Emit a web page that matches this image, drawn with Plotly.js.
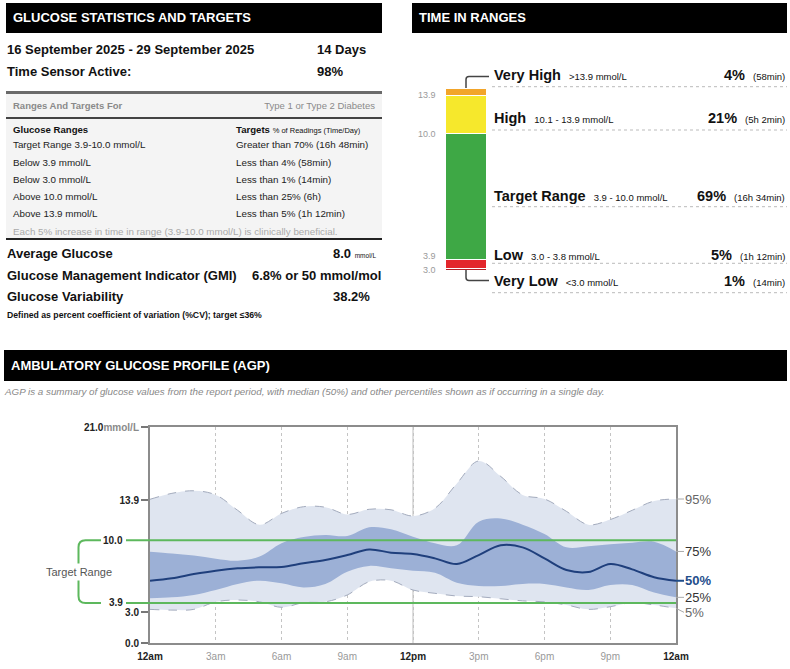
<!DOCTYPE html>
<html><head><meta charset="utf-8">
<script src="https://cdn.plot.ly/plotly-3.0.1.min.js"></script>
<style>
body{margin:0;background:#fff;}
#page{position:relative;width:790px;height:669px;overflow:hidden;font-family:"Liberation Sans",Arial,sans-serif;color:#111;}
#plot{position:absolute;left:0;top:0;width:790px;height:669px;}
.t{position:absolute;white-space:nowrap;transform:translateY(-50%);line-height:1.1;}
.box{position:absolute;}
</style></head><body><div id="page"><div id="plot"></div></div>
<script>
// ---------- DATA ----------
const reportPeriod = '16 September 2025 - 29 September 2025';
const reportDays = '14 Days';
const sensorActive = '98%';
const rangeRows = ['Target Range 3.9-10.0 mmol/L','Below 3.9 mmol/L','Below 3.0 mmol/L','Above 10.0 mmol/L','Above 13.9 mmol/L'];
const targetRows = ['Greater than 70% (16h 48min)','Less than 4% (58min)','Less than 1% (14min)','Less than 25% (6h)','Less than 5% (1h 12min)'];
const avgGlucose = '8.0';
const gmiValue = '6.8% or 50 mmol/mol';
const variability = '38.2%';

const tirLabels = ['Very Low','Low','Target Range','High','Very High'];
const tirRanges = ['&lt;3.0 mmol/L','3.0 - 3.8 mmol/L','3.9 - 10.0 mmol/L','10.1 - 13.9 mmol/L','&gt;13.9 mmol/L'];
const tirPercent = [1,5,69,21,4];
const tirTimes = ['(14min)','(1h 12min)','(16h 34min)','(5h 2min)','(58min)'];
const tirBounds = ['3.0','3.9','10.0','13.9'];

const hours = [0,1,2,3,4,5,6,7,8,9,10,11,12,13,14,15,16,17,18,19,20,21,22,23,24];
const p95 = [13.97,14.55,14.8,14.4,12.9,11.5,12.6,13.25,13.2,12.5,13.0,12.95,12.35,13.1,15.5,17.7,16.2,14.4,14.0,12.8,11.5,12.0,12.9,13.8,14.0];
const p75 = [8.88,8.7,8.5,8.2,8.0,8.4,9.7,10.3,10.5,10.4,11.25,11.05,10.33,9.7,9.5,11.8,12.1,11.5,10.6,9.3,9.4,9.6,9.75,9.85,8.9];
const p50 = [6.06,6.3,6.7,7.03,7.26,7.36,7.4,7.75,8.07,8.55,9.1,8.78,8.65,8.23,7.68,8.55,9.5,9.3,8.23,7.1,6.9,7.68,7.16,6.4,6.06];
const p25 = [4.34,4.44,4.67,5.15,5.74,6.06,5.8,5.4,5.74,6.93,7.49,7.26,7.03,6.83,5.86,5.54,5.54,5.74,5.74,5.4,5.15,5.64,5.64,4.9,4.44];
const p5  = [3.27,3.2,3.27,4.0,4.18,4.0,3.47,3.92,4.0,4.67,5.96,6.06,5.15,4.83,4.57,4.5,4.3,4.1,4.0,3.7,3.27,3.53,3.92,3.7,3.37];
const xTickVals = [0,3,6,9,12,15,18,21,24];
const xTickText = ['12am','3am','6am','9am','12pm','3pm','6pm','9pm','12am'];
const yTickVals = [0,3,13.9,21];
const yTickText = ['0.0','3.0','13.9','21.0'];
const targetLow = 3.9, targetHigh = 10.0;
const pctLabels = ['95%','75%','50%','25%','5%'];

// ---------- HTML TEXT PANELS ----------
const page = document.getElementById('page');
function box(l,t,w,h,css){const d=document.createElement('div');d.className='box';d.style.cssText=`left:${l}px;top:${t}px;width:${w}px;height:${h}px;`+(css||'');page.appendChild(d);return d;}
function txt(x,y,html,css,right){const d=document.createElement('div');d.className='t';d.innerHTML=html;d.style.cssText=(right?`right:${790-x}px;`:`left:${x}px;`)+`top:${y}px;`+(css||'');page.appendChild(d);return d;}

// headers
box(6,3,376,30,'background:#000;');
txt(13,18,'GLUCOSE STATISTICS AND TARGETS','color:#fff;font-weight:bold;font-size:13px;');
box(412,3,375,30,'background:#000;');
txt(419,18,'TIME IN RANGES','color:#fff;font-weight:bold;font-size:13px;');
box(4,350,783,31,'background:#000;');
txt(11,366,'AMBULATORY GLUCOSE PROFILE (AGP)','color:#fff;font-weight:bold;font-size:13px;');
txt(5,392,'AGP is a summary of glucose values from the report period, with median (50%) and other percentiles shown as if occurring in a single day.','color:#888;font-style:italic;font-size:9.8px;');

// stats panel
const B13='font-weight:bold;font-size:13px;color:#111;';
txt(7,50,reportPeriod,B13);
txt(317,50,reportDays,B13);
txt(7,72,'Time Sensor Active:',B13);
txt(317,72,sensorActive,B13);
box(6,91,376,149,'background:#f4f4f4;border-top:3px solid #6a6a6a;border-bottom:2px solid #222;box-sizing:border-box;');
box(6,117,376,2,'background:#444;');
txt(13,106,'Ranges And Targets For','font-weight:bold;font-size:9.5px;color:#8a8a8a;');
txt(375,106,'Type 1 or Type 2 Diabetes','font-size:9.5px;color:#8a8a8a;',true);
txt(13,129.5,'Glucose Ranges','font-weight:bold;font-size:9.6px;color:#111;');
txt(236,129.5,'<b>Targets</b> <span style="font-size:7.5px">% of Readings (Time/Day)</span>','font-size:9.6px;color:#111;');
const rowY=[145,163,180,197,214];
rangeRows.forEach((r,i)=>{txt(13,rowY[i],r,'font-size:9.8px;color:#222;');txt(236,rowY[i],targetRows[i],'font-size:9.8px;color:#222;');});
txt(13,231.5,'Each 5% increase in time in range (3.9-10.0 mmol/L) is clinically beneficial.','font-size:9.8px;color:#aaa;');
txt(7,254,'Average Glucose',B13);
txt(333,254,avgGlucose+' <span style="font-size:6.5px;font-weight:normal">mmol/L</span>',B13);
txt(7,276,'Glucose Management Indicator (GMI)',B13);
txt(252,276,gmiValue,B13);
txt(7,297,'Glucose Variability',B13);
txt(333,297,variability,B13);
txt(7,316,'Defined as percent coefficient of variation (%CV); target ≤36%','font-weight:bold;font-size:8.7px;color:#111;');

// ---------- PLOTLY ----------
const W=790,H=669;
const PX=x=>x/W, PY=y=>1-y/H;
const agpL=150, agpR=676, agpT=427, agpB=643, yMax=21;
const barL=445, barR=486, barT=88, barB=270;
const FF='Liberation Sans, Arial';

const traces=[];
const tirColors=['#b31f25','#e3262b','#3ea845','#f6e82c','#f2a52a'];
tirPercent.forEach((p,i)=>{
  traces.push({type:'bar',x:[0],y:[p],width:1,xaxis:'x2',yaxis:'y2',marker:{color:tirColors[i],line:{color:'#fff',width:1}},hoverinfo:'skip',showlegend:false});
});
const dash={color:'#a3abbd',width:1,dash:'dash',shape:'spline',smoothing:1};
traces.push({type:'scatter',mode:'lines',x:hours,y:p5,line:dash,hoverinfo:'skip',showlegend:false});
traces.push({type:'scatter',mode:'lines',x:hours,y:p95,line:dash,fill:'tonexty',fillcolor:'#dfe5f0',hoverinfo:'skip',showlegend:false});
traces.push({type:'scatter',mode:'lines',x:hours,y:p25,line:{width:0,shape:'spline',smoothing:1},hoverinfo:'skip',showlegend:false});
traces.push({type:'scatter',mode:'lines',x:hours,y:p75,line:{width:0,shape:'spline',smoothing:1},fill:'tonexty',fillcolor:'#9cb0d6',hoverinfo:'skip',showlegend:false});
traces.push({type:'scatter',mode:'lines',x:hours,y:p50,line:{color:'#1f3f7c',width:2,shape:'spline',smoothing:1},hoverinfo:'skip',showlegend:false});

const shapes=[], annotations=[];
shapes.push({type:'line',xref:'x',yref:'y',x0:12,x1:12,y0:0,y1:yMax,line:{color:'#bdbdbd',width:1},layer:'below'});
[targetHigh,targetLow].forEach(v=>{
  shapes.push({type:'line',xref:'paper',yref:'y',x0:PX(126),x1:PX(agpR),y0:v,y1:v,line:{color:'#5db85d',width:2},layer:'above'});
});
const r=7, ry=r/(agpB-agpT)*yMax;
shapes.push({type:'path',xref:'paper',yref:'y',line:{color:'#5db85d',width:2},
  path:`M ${PX(101)},${targetHigh} L ${PX(78.5+r)},${targetHigh} Q ${PX(78.5)},${targetHigh} ${PX(78.5)},${targetHigh-ry} L ${PX(78.5)},${targetLow+ry} Q ${PX(78.5)},${targetLow} ${PX(78.5+r)},${targetLow} L ${PX(101)},${targetLow}`});
annotations.push({xref:'paper',yref:'y',x:PX(125),y:targetHigh,xanchor:'right',yanchor:'middle',text:'<b>'+targetHigh.toFixed(1)+'</b>',showarrow:false,font:{size:10,color:'#222',family:FF}});
annotations.push({xref:'paper',yref:'y',x:PX(125),y:targetLow,xanchor:'right',yanchor:'middle',text:'<b>'+targetLow.toFixed(1)+'</b>',showarrow:false,font:{size:10,color:'#222',family:FF}});
annotations.push({xref:'paper',yref:'y',x:PX(78.5),y:(targetHigh+targetLow)/2,xanchor:'center',yanchor:'middle',text:'Target Range',showarrow:false,bgcolor:'#fff',borderpad:2,font:{size:11,color:'#555',family:FF}});

const series=[p95,p75,p50,p25,p5];
const pctColors=['#666','#333','#1f4e8c','#333','#666'];
const pctAy=[0,0,0,0,4];
series.forEach((s,i)=>{
  annotations.push({xref:'x',yref:'y',x:24,y:s[s.length-1],ax:8,ay:pctAy[i],showarrow:true,arrowhead:0,arrowwidth:i===2?2:1,arrowcolor:i===2?'#1f4e8c':'#aaa',standoff:0,xanchor:'left',yanchor:'middle',borderpad:0,
    text:i===2?'<b>'+pctLabels[i]+'</b>':pctLabels[i],font:{size:13,color:pctColors[i],family:FF}});
});

const cum=[];let acc=0;tirPercent.forEach(p=>{acc+=p;cum.push(acc);});
const boundShift=[-2,3,0,0];
tirBounds.forEach((b,i)=>{
  annotations.push({xref:'paper',yref:'y2',x:PX(438),y:cum[i],yshift:boundShift[i],xanchor:'right',yanchor:'middle',text:b,showarrow:false,font:{size:9,color:'#9a9a9a',family:FF}});
});
const labelY=[281,255,195.5,118.5,75];
const dotY=[292.7,263.3,206.7,130,86.7];
tirLabels.forEach((l,i)=>{
  annotations.push({xref:'paper',yref:'paper',x:PX(492),y:PY(labelY[i]),xanchor:'left',yanchor:'middle',showarrow:false,
    text:'<b>'+l+'</b>  <span style="font-size:9.5px">'+tirRanges[i]+'</span>',font:{size:14.5,color:'#111',family:FF}});
  annotations.push({xref:'paper',yref:'paper',x:PX(787),y:PY(labelY[i]),xanchor:'right',yanchor:'middle',showarrow:false,
    text:'<b>'+tirPercent[i]+'%</b>  <span style="font-size:9.5px">'+tirTimes[i]+'</span>',font:{size:14.5,color:'#111',family:FF}});
  shapes.push({type:'line',xref:'paper',yref:'paper',x0:PX(492),x1:PX(787),y0:PY(dotY[i]),y1:PY(dotY[i]),line:{color:'#bbb',width:1,dash:'dot'}});
});
const cx=(barL+barR)/2+0.5;
shapes.push({type:'path',xref:'paper',yref:'paper',line:{color:'#444',width:1.5},
  path:`M ${PX(cx)},${PY(barT)} L ${PX(cx)},${PY(79.5)} Q ${PX(cx)},${PY(76.5)} ${PX(cx+3)},${PY(76.5)} L ${PX(489)},${PY(76.5)}`});
shapes.push({type:'path',xref:'paper',yref:'paper',line:{color:'#444',width:1.5},
  path:`M ${PX(cx)},${PY(barB)} L ${PX(cx)},${PY(277.5)} Q ${PX(cx)},${PY(280.5)} ${PX(cx+3)},${PY(280.5)} L ${PX(489)},${PY(280.5)}`});

const xt = xTickText.map(t=> (t==='12am'||t==='12pm') ? '<span style="color:#222"><b>'+t+'</b></span>' : t);
const yt = yTickText.map((t,i)=> i===yTickText.length-1 ? '<b>'+t+'</b><span style="color:#8a8a8a"><b>mmol/L</b></span>' : '<b>'+t+'</b>');

const layout={
  width:W,height:H,margin:{l:0,r:0,t:0,b:0},paper_bgcolor:'rgba(0,0,0,0)',plot_bgcolor:'#fff',
  showlegend:false,barmode:'stack',bargap:0,
  font:{family:'Liberation Sans, Arial, sans-serif'},
  xaxis:{domain:[PX(agpL),PX(agpR)],range:[0,24],tickvals:xTickVals,ticktext:xt,tickfont:{size:10,color:'#999'},
    showgrid:true,griddash:'dot',gridcolor:'#c4c4c4',gridwidth:1,zeroline:false,showline:true,mirror:true,linecolor:'#8c8c8c',linewidth:2,ticks:'',ticklabelstandoff:3,fixedrange:true,anchor:'y'},
  yaxis:{domain:[PY(agpB),PY(agpT)],range:[0,yMax],tickvals:yTickVals,ticktext:yt,tickfont:{size:10,color:'#222'},
    showgrid:false,zeroline:false,showline:true,mirror:true,linecolor:'#8c8c8c',linewidth:2,ticks:'outside',ticklen:7,tickcolor:'#777',tickwidth:1.5,fixedrange:true,anchor:'x'},
  xaxis2:{domain:[PX(barL),PX(barR)],range:[-0.5,0.5],visible:false,anchor:'y2',fixedrange:true},
  yaxis2:{domain:[PY(barB),PY(barT)],range:[0,100],visible:false,anchor:'x2',fixedrange:true},
  shapes:shapes,annotations:annotations
};
Plotly.newPlot('plot',traces,layout,{staticPlot:true,displayModeBar:false});
</script></body></html>
